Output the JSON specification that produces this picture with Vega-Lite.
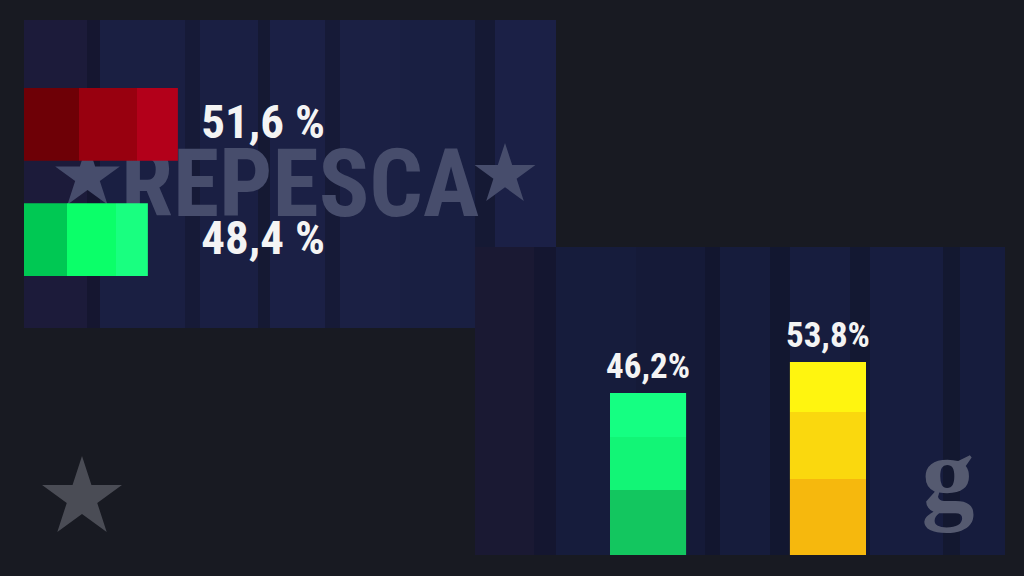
{
  "$schema": "https://vega.github.io/schema/vega-lite/v6.json",
  "width": 1024,
  "height": 576,
  "autosize": {"type": "fit", "contains": "padding"},
  "padding": 0,
  "background": "#181a22",
  "config": {"view": {"stroke": null}},
  "datasets": {
    "repesca_horizontal": [
      {"candidato": "Rojo", "porcentaje": 51.6, "etiqueta": "51,6 %"},
      {"candidato": "Verde", "porcentaje": 48.4, "etiqueta": "48,4 %"}
    ],
    "repesca_vertical": [
      {"candidato": "Verde", "porcentaje": 46.2, "etiqueta": "46,2%"},
      {"candidato": "Amarillo", "porcentaje": 53.8, "etiqueta": "53,8%"}
    ]
  },
  "resolve": {"scale": {"x": "independent", "y": "independent"}},
  "layer": [
    {
      "data": {"values": [{}]},
      "layer": [
        {
          "mark": {"type": "rect", "fill": {"gradient": "linear", "x1": 0, "y1": 0, "x2": 1, "y2": 0, "stops": [
            {"offset": 0, "color": "#1c1b3a"}, {"offset": 0.118, "color": "#1c1b3a"},
            {"offset": 0.118, "color": "#151630"}, {"offset": 0.143, "color": "#151630"},
            {"offset": 0.143, "color": "#1a1f42"}, {"offset": 0.303, "color": "#1a1f42"},
            {"offset": 0.303, "color": "#161a37"}, {"offset": 0.331, "color": "#161a37"},
            {"offset": 0.331, "color": "#1a1f43"}, {"offset": 0.44, "color": "#1a1f43"},
            {"offset": 0.44, "color": "#151933"}, {"offset": 0.462, "color": "#151933"},
            {"offset": 0.462, "color": "#1b2045"}, {"offset": 0.566, "color": "#1b2045"},
            {"offset": 0.566, "color": "#161a37"}, {"offset": 0.594, "color": "#161a37"},
            {"offset": 0.594, "color": "#1b2044"}, {"offset": 0.707, "color": "#1b2044"},
            {"offset": 0.707, "color": "#191f42"}, {"offset": 0.848, "color": "#191f42"},
            {"offset": 0.848, "color": "#151934"}, {"offset": 0.885, "color": "#151934"},
            {"offset": 0.885, "color": "#1b2046"}, {"offset": 1, "color": "#1b2046"}
          ]}},
          "encoding": {
            "x": {"datum": 24, "type": "quantitative", "scale": {"domain": [0, 1024], "nice": false, "zero": false}, "axis": null},
            "x2": {"datum": 556},
            "y": {"datum": 20, "type": "quantitative", "scale": {"domain": [0, 576], "reverse": true, "nice": false, "zero": false}, "axis": null},
            "y2": {"datum": 328}
          }
        },
        {
          "mark": {"type": "rect", "fill": {"gradient": "linear", "x1": 0, "y1": 0, "x2": 1, "y2": 0, "stops": [
            {"offset": 0, "color": "#1a1933"}, {"offset": 0.111, "color": "#1a1933"},
            {"offset": 0.111, "color": "#141630"}, {"offset": 0.153, "color": "#141630"},
            {"offset": 0.153, "color": "#161c3c"}, {"offset": 0.304, "color": "#161c3c"},
            {"offset": 0.304, "color": "#151a38"}, {"offset": 0.434, "color": "#151a38"},
            {"offset": 0.434, "color": "#12162f"}, {"offset": 0.462, "color": "#12162f"},
            {"offset": 0.462, "color": "#161c3c"}, {"offset": 0.557, "color": "#161c3c"},
            {"offset": 0.557, "color": "#121730"}, {"offset": 0.594, "color": "#121730"},
            {"offset": 0.594, "color": "#171d3e"}, {"offset": 0.708, "color": "#171d3e"},
            {"offset": 0.708, "color": "#131832"}, {"offset": 0.745, "color": "#131832"},
            {"offset": 0.745, "color": "#171d3f"}, {"offset": 0.883, "color": "#171d3f"},
            {"offset": 0.883, "color": "#131830"}, {"offset": 0.915, "color": "#131830"},
            {"offset": 0.915, "color": "#161c3d"}, {"offset": 1, "color": "#161c3d"}
          ]}},
          "encoding": {
            "x": {"datum": 475, "type": "quantitative", "scale": {"domain": [0, 1024], "nice": false, "zero": false}, "axis": null},
            "x2": {"datum": 1005},
            "y": {"datum": 247, "type": "quantitative", "scale": {"domain": [0, 576], "reverse": true, "nice": false, "zero": false}, "axis": null},
            "y2": {"datum": 555}
          }
        },
        {
          "mark": {"type": "text", "text": "REPESCA", "font": "Roboto Condensed, Roboto, sans-serif", "fontSize": 94, "fontWeight": "bold", "fill": "#474d6c", "align": "center", "baseline": "alphabetic"},
          "encoding": {
            "x": {"datum": 300, "type": "quantitative", "scale": {"domain": [0, 1024], "nice": false, "zero": false}, "axis": null},
            "y": {"datum": 216, "type": "quantitative", "scale": {"domain": [0, 576], "reverse": true, "nice": false, "zero": false}, "axis": null}
          }
        },
        {
          "mark": {"type": "point", "shape": "M0,-1L0.225,-0.309L0.951,-0.309L0.363,0.118L0.588,0.809L0,0.382L-0.588,0.809L-0.363,0.118L-0.951,-0.309L-0.225,-0.309Z", "filled": true, "size": 4624, "color": "#474d6c", "opacity": 1, "strokeWidth": 0},
          "encoding": {
            "x": {"datum": 87.5, "type": "quantitative", "scale": {"domain": [0, 1024], "nice": false, "zero": false}, "axis": null},
            "y": {"datum": 177, "type": "quantitative", "scale": {"domain": [0, 576], "reverse": true, "nice": false, "zero": false}, "axis": null}
          }
        },
        {
          "mark": {"type": "point", "shape": "M0,-1L0.225,-0.309L0.951,-0.309L0.363,0.118L0.588,0.809L0,0.382L-0.588,0.809L-0.363,0.118L-0.951,-0.309L-0.225,-0.309Z", "filled": true, "size": 4096, "color": "#474d6c", "opacity": 1, "strokeWidth": 0},
          "encoding": {
            "x": {"datum": 505, "type": "quantitative", "scale": {"domain": [0, 1024], "nice": false, "zero": false}, "axis": null},
            "y": {"datum": 175, "type": "quantitative", "scale": {"domain": [0, 576], "reverse": true, "nice": false, "zero": false}, "axis": null}
          }
        },
        {
          "mark": {"type": "point", "shape": "M0,-1L0.225,-0.309L0.951,-0.309L0.363,0.118L0.588,0.809L0,0.382L-0.588,0.809L-0.363,0.118L-0.951,-0.309L-0.225,-0.309Z", "filled": true, "size": 7056, "color": "#4a4c55", "opacity": 1, "strokeWidth": 0},
          "encoding": {
            "x": {"datum": 82, "type": "quantitative", "scale": {"domain": [0, 1024], "nice": false, "zero": false}, "axis": null},
            "y": {"datum": 498, "type": "quantitative", "scale": {"domain": [0, 576], "reverse": true, "nice": false, "zero": false}, "axis": null}
          }
        },
        {
          "mark": {"type": "text", "text": "g", "font": "Liberation Serif, DejaVu Serif, serif", "fontSize": 106, "fontWeight": "bold", "fill": "#555a70", "align": "center", "baseline": "alphabetic"},
          "encoding": {
            "x": {"datum": 948, "type": "quantitative", "scale": {"domain": [0, 1024], "nice": false, "zero": false}, "axis": null},
            "y": {"datum": 510, "type": "quantitative", "scale": {"domain": [0, 576], "reverse": true, "nice": false, "zero": false}, "axis": null}
          }
        }
      ]
    },
    {
      "data": {"name": "repesca_horizontal"},
      "encoding": {
        "y": {"field": "candidato", "type": "nominal", "sort": null, "scale": {"domain": ["Rojo", "Verde"], "range": [88, 276], "paddingInner": 0.37, "paddingOuter": 0}, "axis": null}
      },
      "layer": [
        {
          "transform": [{"filter": "datum.candidato === 'Rojo'"}],
          "mark": {"type": "bar", "fill": {"gradient": "linear", "x1": 0, "y1": 0, "x2": 1, "y2": 0, "stops": [
            {"offset": 0, "color": "#6e0006"}, {"offset": 0.357, "color": "#6e0006"},
            {"offset": 0.357, "color": "#98000f"}, {"offset": 0.734, "color": "#98000f"},
            {"offset": 0.734, "color": "#b3001a"}, {"offset": 1, "color": "#b3001a"}
          ]}},
          "encoding": {
            "x": {"field": "porcentaje", "type": "quantitative", "scale": {"domain": [35.2, 91.9], "range": [24, 556], "zero": false, "nice": false}, "axis": null},
            "x2": {"datum": 35.2}
          }
        },
        {
          "transform": [{"filter": "datum.candidato === 'Verde'"}],
          "mark": {"type": "bar", "fill": {"gradient": "linear", "x1": 0, "y1": 0, "x2": 1, "y2": 0, "stops": [
            {"offset": 0, "color": "#00c853"}, {"offset": 0.347, "color": "#00c853"},
            {"offset": 0.347, "color": "#0bff69"}, {"offset": 0.742, "color": "#0bff69"},
            {"offset": 0.742, "color": "#19ff80"}, {"offset": 1, "color": "#19ff80"}
          ]}},
          "encoding": {
            "x": {"field": "porcentaje", "type": "quantitative", "scale": {"domain": [35.2, 91.9], "range": [24, 556], "zero": false, "nice": false}, "axis": null},
            "x2": {"datum": 35.2}
          }
        },
        {
          "mark": {"type": "text", "font": "Roboto Condensed, Roboto, sans-serif", "fontSize": 47, "fontWeight": "bold", "fill": "#f4f4f4", "align": "left", "baseline": "middle"},
          "encoding": {
            "x": {"datum": 54.1, "type": "quantitative", "scale": {"domain": [35.2, 91.9], "range": [24, 556], "zero": false, "nice": false}, "axis": null},
            "text": {"field": "etiqueta", "type": "nominal"}
          }
        }
      ]
    },
    {
      "data": {"name": "repesca_vertical"},
      "encoding": {
        "x": {"field": "candidato", "type": "nominal", "sort": null, "scale": {"domain": ["Verde", "Amarillo"], "range": [610, 866], "paddingInner": 0.577, "paddingOuter": 0}, "axis": null}
      },
      "layer": [
        {
          "transform": [{"filter": "datum.candidato === 'Verde'"}],
          "mark": {"type": "bar", "fill": {"gradient": "linear", "x1": 0, "y1": 0, "x2": 0, "y2": 1, "stops": [
            {"offset": 0, "color": "#15ff82"}, {"offset": 0.27, "color": "#15ff82"},
            {"offset": 0.27, "color": "#12f576"}, {"offset": 0.6, "color": "#12f576"},
            {"offset": 0.6, "color": "#13c65f"}, {"offset": 1, "color": "#13c65f"}
          ]}},
          "encoding": {
            "y": {"field": "porcentaje", "type": "quantitative", "scale": {"domain": [0, 100], "range": [581, 174], "zero": false, "nice": false}, "axis": null},
            "y2": {"datum": 6.39}
          }
        },
        {
          "transform": [{"filter": "datum.candidato === 'Amarillo'"}],
          "mark": {"type": "bar", "fill": {"gradient": "linear", "x1": 0, "y1": 0, "x2": 0, "y2": 1, "stops": [
            {"offset": 0, "color": "#fff50f"}, {"offset": 0.257, "color": "#fff50f"},
            {"offset": 0.257, "color": "#fad80e"}, {"offset": 0.608, "color": "#fad80e"},
            {"offset": 0.608, "color": "#f6b80d"}, {"offset": 1, "color": "#f6b80d"}
          ]}},
          "encoding": {
            "y": {"field": "porcentaje", "type": "quantitative", "scale": {"domain": [0, 100], "range": [581, 174], "zero": false, "nice": false}, "axis": null},
            "y2": {"datum": 6.39}
          }
        },
        {
          "mark": {"type": "text", "font": "Roboto Condensed, Roboto, sans-serif", "fontSize": 35, "fontWeight": "bold", "fill": "#f4f4f4", "align": "center", "baseline": "alphabetic", "dy": -15},
          "encoding": {
            "y": {"field": "porcentaje", "type": "quantitative", "scale": {"domain": [0, 100], "range": [581, 174], "zero": false, "nice": false}, "axis": null},
            "text": {"field": "etiqueta", "type": "nominal"}
          }
        }
      ]
    }
  ]
}
